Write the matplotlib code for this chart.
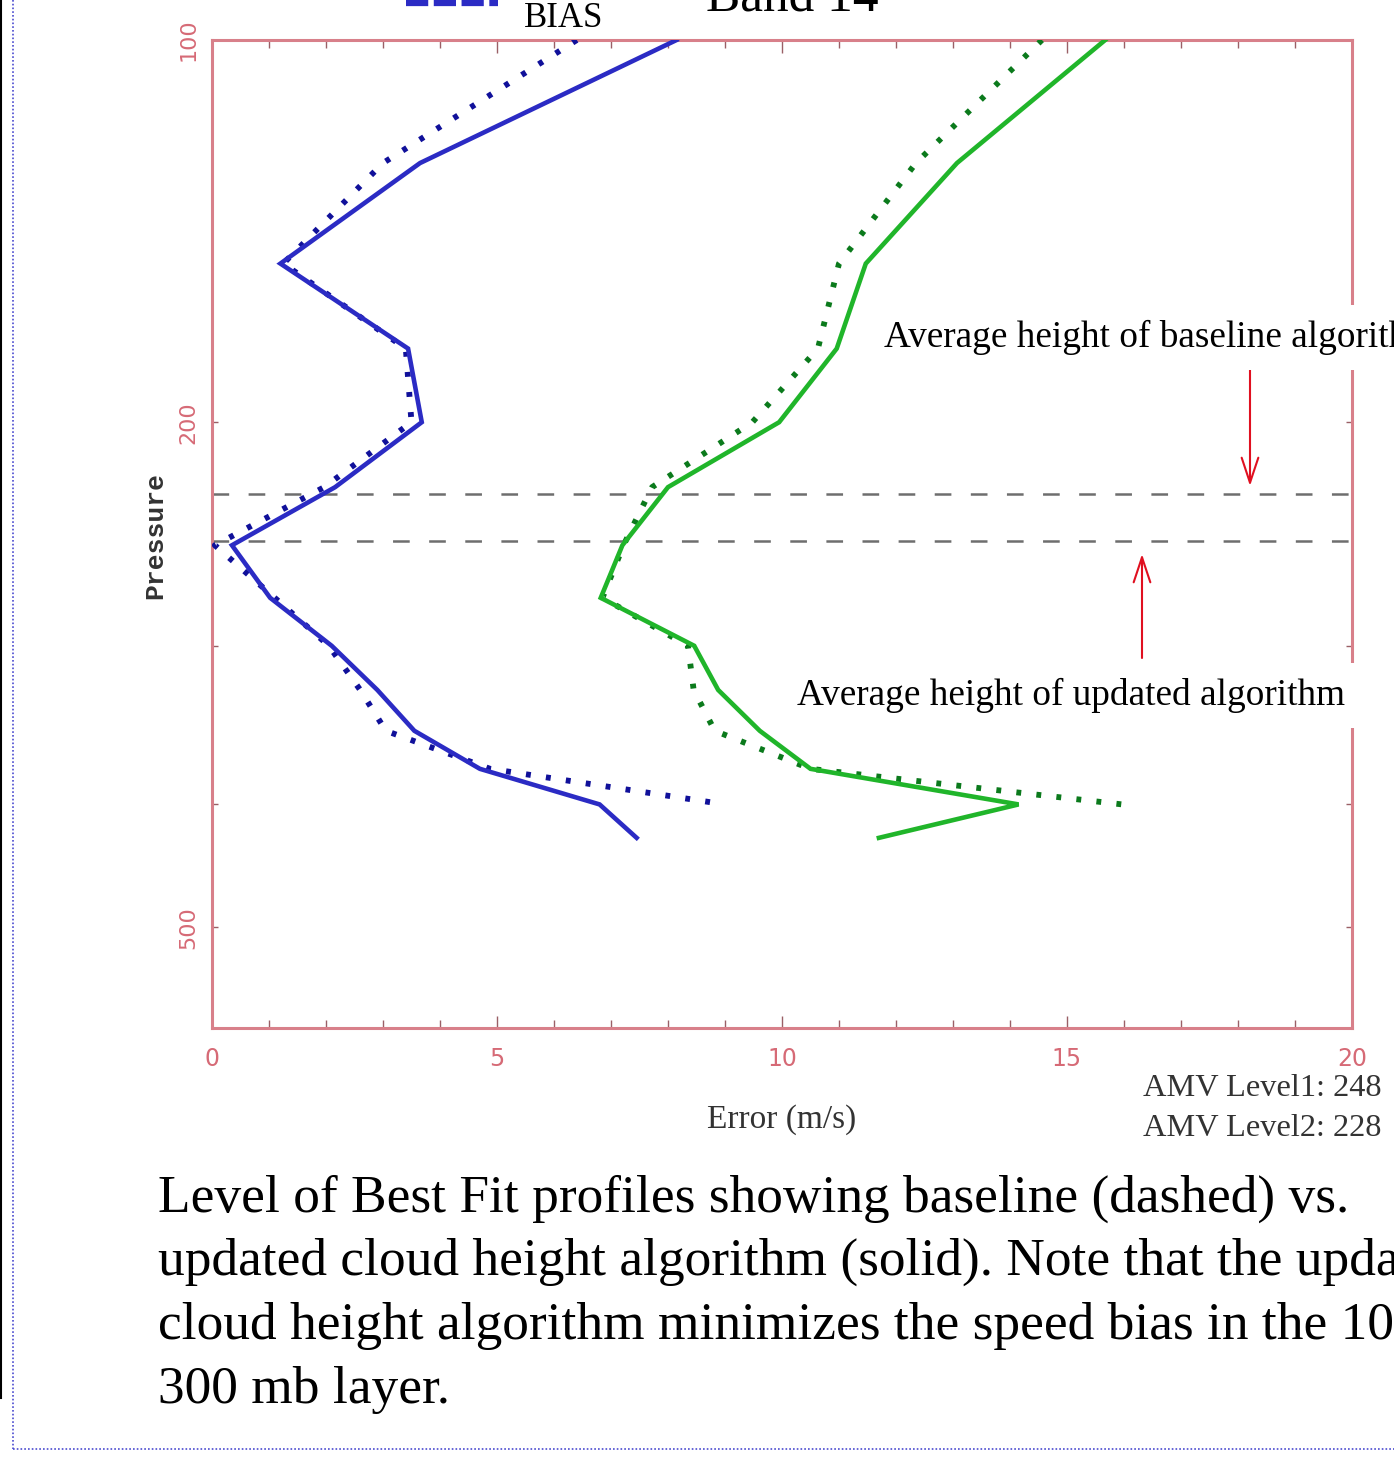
import matplotlib
matplotlib.use("Agg")
import matplotlib.pyplot as plt
from matplotlib.lines import Line2D

plt.rcParams['lines.scale_dashes'] = False

W, H = 1394, 1464

# ---------------- data ----------------
pressure_updated = [100, 125, 150, 175, 200, 225, 250, 275, 300, 325, 350, 375, 400, 425]
pressure_baseline = [100, 125, 150, 175, 200, 225, 250, 275, 300, 325, 350, 375, 400]

bias_updated = [8.15, 3.65, 1.2, 3.44, 3.68, 2.16, 0.35, 1.02, 2.1, 2.9, 3.55, 4.7, 6.8, 7.45]
bias_baseline = [6.4, 3.0, 1.25, 3.4, 3.5, 1.97, 0.05, 1.1, 2.05, 2.6, 3.05, 4.88, 9.0]

rms_updated = [15.67, 13.07, 11.47, 10.96, 9.95, 8.0, 7.2, 6.82, 8.46, 8.88, 9.61, 10.5, 14.15, 11.7]
rms_baseline = [14.56, 12.35, 11.0, 10.63, 9.48, 7.72, 7.22, 6.85, 8.35, 8.45, 8.82, 10.5, 15.97]

amv_levels = [248, 228]
x_ticks = [0, 5, 10, 15, 20]
y_ticks = [100, 200, 300, 400, 500]
y_ticklabels = ['100', '200', '', '', '500']

caption_lines = [
    "Level of Best Fit profiles showing baseline (dashed) vs.",
    "updated cloud height algorithm (solid). Note that the updated",
    "cloud height algorithm minimizes the speed bias in the 100-",
    "300 mb layer.",
]

# ---------------- helpers ----------------
def fx(px):
    return px / W

def fy(py):
    return 1 - py / H

SPINE = '#d8808a'
TICKLAB = '#d66a76'
serif = ['Liberation Serif', 'DejaVu Serif']

fig = plt.figure(figsize=(W / 100, H / 100), dpi=100)
fig.patch.set_facecolor('white')

ax = fig.add_axes([fx(212), fy(1028), fx(1352) - fx(212), fy(40) - fy(1028)])
ax.set_yscale('log')
ax.set_xlim(0, 20)
ax.set_ylim(600, 100)

for s in ax.spines.values():
    s.set_color(SPINE)
    s.set_linewidth(2.2)

ax.set_xticks(x_ticks)
ax.set_xticklabels([str(v) for v in x_ticks])
ax.set_xticks(range(0, 21), minor=True)
ax.set_yticks(y_ticks)
ax.set_yticklabels(y_ticklabels)
ax.yaxis.set_minor_locator(matplotlib.ticker.NullLocator())

ax.tick_params(axis='x', which='major', direction='in', top=True, bottom=True,
               length=9, width=1.0, color='#9a6066', pad=14,
               labelsize=17, labelcolor=TICKLAB)
ax.tick_params(axis='x', which='minor', direction='in', top=True, bottom=True,
               length=6, width=1.0, color='#9a6066')
ax.tick_params(axis='y', which='major', direction='in', left=True, right=True,
               length=4, width=1.0, color='#9a6066', pad=10,
               labelsize=16, labelcolor=TICKLAB)
for lab in ax.get_yticklabels():
    lab.set_rotation(90)
    lab.set_va('center')

# AMV level dashed lines
for lev in amv_levels:
    ax.axhline(lev, color='#6e6e6e', lw=1.8, linestyle=(0, (12, 14)), zorder=1)

# curves
ax.plot(bias_baseline, pressure_baseline, color='#10109a', lw=4.2,
        linestyle=(0, (3.5, 11)), zorder=3, dash_capstyle='butt')
ax.plot(bias_updated, pressure_updated, color='#2b2bc4', lw=3.3, zorder=4,
        solid_joinstyle='miter')
ax.plot(rms_baseline, pressure_baseline, color='#0b7a1c', lw=4.2,
        linestyle=(0, (3.5, 11)), zorder=3, dash_capstyle='butt')
ax.plot(rms_updated, pressure_updated, color='#20b52a', lw=3.3, zorder=4,
        solid_joinstyle='miter')

# axis labels
fig.text(fx(155), fy(535), 'Pressure', rotation=90, ha='center', va='center',
         fontsize=19, fontweight='bold', family=['Liberation Mono', 'DejaVu Sans Mono'],
         color='#333333')
fig.text(fx(782), fy(1120), 'Error (m/s)', ha='center', va='center',
         fontsize=24, family=serif, color='#333333')
fig.text(fx(1143), fy(1088), f'AMV Level1: {amv_levels[0]}', ha='left', va='center',
         fontsize=23.3, family=serif, color='#333333')
fig.text(fx(1143), fy(1128), f'AMV Level2: {amv_levels[1]}', ha='left', va='center',
         fontsize=23.3, family=serif, color='#333333')

# annotations
fig.text(fx(884), fy(347), 'Average height of baseline algorithm', ha='left', va='baseline',
         fontsize=26.8, family=serif, color='black', zorder=5,
         bbox=dict(facecolor='white', edgecolor='none', pad=11))
fig.text(fx(797), fy(705), 'Average height of updated algorithm', ha='left', va='baseline',
         fontsize=26.8, family=serif, color='black', zorder=5,
         bbox=dict(facecolor='white', edgecolor='none', pad=11))

ax.annotate('', xy=(1250, H - 486), xytext=(1250, H - 365), xycoords='figure pixels',
            textcoords='figure pixels',
            arrowprops=dict(arrowstyle='->,head_length=0.9,head_width=0.3', color='#e01020',
                            lw=1.5, mutation_scale=20, shrinkA=0, shrinkB=0), zorder=6)
ax.annotate('', xy=(1142, H - 554), xytext=(1142, H - 658), xycoords='figure pixels',
            textcoords='figure pixels',
            arrowprops=dict(arrowstyle='->,head_length=0.9,head_width=0.3', color='#e01020',
                            lw=1.5, mutation_scale=20, shrinkA=0, shrinkB=0), zorder=6)

# legend remnants at top
fig.add_artist(Line2D([fx(406), fx(498)], [fy(3), fy(3)], color='#2b2bc4', lw=4.5,
                      linestyle=(0, (16, 4))))
fig.text(fx(524), fy(27), 'BIAS', ha='left', va='baseline', fontsize=25, family=serif)
fig.text(fx(706), fy(12), 'Band 14', ha='left', va='baseline', fontsize=37, family=serif)

# caption
baselines = [1212, 1275, 1339, 1403]
for line, b in zip(caption_lines, baselines):
    fig.text(fx(158), fy(b), line, ha='left', va='baseline', fontsize=38.4, family=serif)

# page decoration
fig.add_artist(Line2D([fx(1), fx(1)], [fy(0), fy(1398)], color='black', lw=1.5))
fig.add_artist(Line2D([fx(13), fx(13)], [fy(0), fy(1449)], color='#4a4ad0', lw=1.2,
                      linestyle=(0, (1.2, 1.5))))
fig.add_artist(Line2D([fx(13), fx(1394)], [fy(1449), fy(1449)], color='#4a4ad0', lw=1.2,
                      linestyle=(0, (1.2, 1.5))))

fig.savefig('out.png', dpi=100)
